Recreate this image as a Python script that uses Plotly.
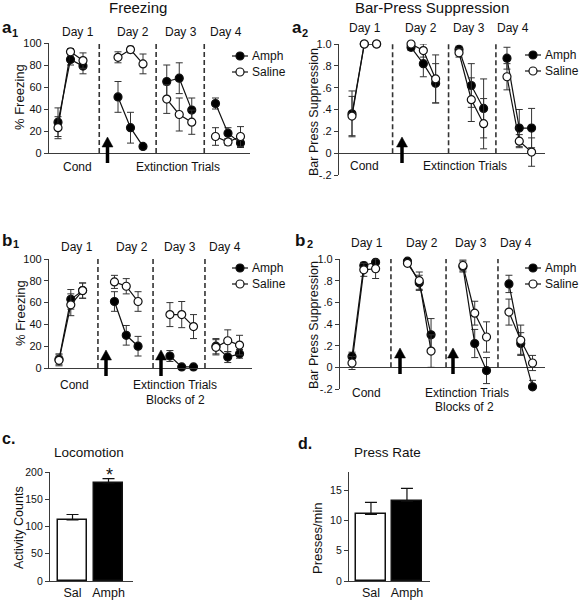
import plotly.graph_objects as go

W, H = 581, 601
FONT = "Liberation Sans, Arial, Helvetica, sans-serif"
INK = "#111111"
AX = "#3a3a3a"

# ---------------- data ----------------
DAYS = ["Day 1", "Day 2", "Day 3", "Day 4"]
SERIES = ["Amph", "Saline"]
TRIAL_POS_A = [0, 1, 2, 4.8, 5.8, 6.8, 8.7, 9.7, 10.7, 12.6, 13.6, 14.6]
TRIAL_POS_B = [0, 1, 2, 4.7, 5.7, 6.7, 9.4, 10.4, 11.4, 13.3, 14.3, 15.3]
DIVIDERS_A = [3.3, 7.85, 11.7]
DIVIDERS_B = [3.3, 7.97, 12.37]

# a1: Freezing (trials)
A1_AMPH = [28, 85, 79, 51, 23, 6, 65, 68, 39, 45, 18, 9]
A1_AMPH_ERR = [13, 5, 7, 14, 14, 1, 15, 14, 11, 5, 5, 4]
A1_SAL = [23, 92, 84, 87, 94, 81, 49, 35, 28, 15, 10, 15]
A1_SAL_ERR = [10, 3, 7, 5, 3, 9, 13, 15, 11, 8, 3, 9]

# a2: Bar-press suppression (trials)
A2_AMPH = [0.36, 1.0, 1.0, 0.97, 0.82, 0.64, 0.95, 0.62, 0.41, 0.87, 0.23, 0.23]
A2_AMPH_ERR = [0.21, 0.0, 0.0, 0.03, 0.12, 0.18, 0.03, 0.20, 0.27, 0.10, 0.17, 0.18]
A2_SAL = [0.34, 1.0, 1.0, 1.0, 0.94, 0.68, 0.92, 0.49, 0.27, 0.70, 0.11, 0.01]
A2_SAL_ERR = [0.18, 0.0, 0.0, 0.01, 0.06, 0.22, 0.04, 0.20, 0.23, 0.12, 0.06, 0.13]

# b1: Freezing (blocks of 2)
B1_AMPH = [8, 63, 71, 61, 30, 20, 11, 1, 1, 20, 10, 13]
B1_AMPH_ERR = [5, 9, 7, 9, 9, 9, 5, 1, 1, 7, 5, 4]
B1_SAL = [7, 58, 71, 79, 75, 61, 49, 49, 38, 19, 25, 21]
B1_SAL_ERR = [5, 10, 7, 6, 7, 9, 11, 12, 11, 7, 10, 9]

# b2: Bar-press suppression (blocks of 2)
B2_AMPH = [0.10, 0.94, 0.97, 0.98, 0.78, 0.30, 0.93, 0.22, -0.03, 0.77, 0.22, -0.18]
B2_AMPH_ERR = [0.04, 0.03, 0.02, 0.02, 0.07, 0.15, 0.05, 0.13, 0.12, 0.08, 0.10, 0.06]
B2_SAL = [0.04, 0.90, 0.91, 0.96, 0.80, 0.15, 0.94, 0.50, 0.28, 0.51, 0.25, 0.04]
B2_SAL_ERR = [0.06, 0.06, 0.09, 0.02, 0.08, 0.15, 0.05, 0.11, 0.14, 0.12, 0.14, 0.07]

# c / d bars
GROUPS = ["Sal", "Amph"]
LOCO = [112, 180]
LOCO_ERR = [10, 8]
PRESS = [11.0, 13.2]
PRESS_ERR = [2.0, 2.1]

SUPP_TICKS = [-0.2, 0, 0.2, 0.4, 0.6, 0.8, 1.0]
SUPP_TICKTEXT = ["-.2", "0", ".2", ".4", ".6", ".8", "1.0"]
FREEZE_TICKS = [0, 20, 40, 60, 80, 100]


# ---------------- helpers ----------------
def px(x):
    return x / W


def py(y):
    return 1 - y / H


def by_day(vals, fill=None):
    out = []
    for d in range(len(DAYS)):
        out += list(vals[d * 3:(d + 1) * 3])
        if d < len(DAYS) - 1:
            out.append(fill)
    return out


def xrange_for(px_left, px_right, px0, step):
    return [(px_left - px0) / step, (px_right - px0) / step]


fig = go.Figure()

PANELS = [
    ("", TRIAL_POS_A, A1_AMPH, A1_AMPH_ERR, A1_SAL, A1_SAL_ERR),
    ("2", TRIAL_POS_A, A2_AMPH, A2_AMPH_ERR, A2_SAL, A2_SAL_ERR),
    ("3", TRIAL_POS_B, B1_AMPH, B1_AMPH_ERR, B1_SAL, B1_SAL_ERR),
    ("4", TRIAL_POS_B, B2_AMPH, B2_AMPH_ERR, B2_SAL, B2_SAL_ERR),
]

for key, pos, am, ame, sa, sae in PANELS:
    for name, vals, errs, fillc in [("Amph", am, ame, "black"), ("Saline", sa, sae, "white")]:
        fig.add_trace(go.Scatter(
            x=by_day(pos), y=by_day(vals),
            mode="lines+markers", name=name, showlegend=False,
            line=dict(color=INK, width=1.2),
            marker=dict(symbol="circle", size=8, color=fillc, line=dict(color=INK, width=1.2)),
            error_y=dict(type="data", array=by_day(errs, 0), color="#333333", thickness=1, width=3.5),
            cliponaxis=False, connectgaps=False,
            xaxis="x" + key, yaxis="y" + key,
        ))

for key, vals, errs, bw in [("5", LOCO, LOCO_ERR, 0.8), ("6", PRESS, PRESS_ERR, 0.83)]:
    fig.add_trace(go.Bar(
        x=GROUPS, y=vals, width=bw,
        marker=dict(color=["white", "black"], line=dict(color=INK, width=1.5)),
        error_y=dict(type="data", array=errs, arrayminus=[0, 0], symmetric=False,
                     color=INK, thickness=1.2, width=6),
        showlegend=False, cliponaxis=False,
        xaxis="x" + key, yaxis="y" + key,
    ))

line_x_common = dict(showgrid=False, zeroline=False, ticks="", showticklabels=False,
                     linecolor=AX, linewidth=1.2, automargin=False)
y_common = dict(showgrid=False, ticks="outside", ticklen=4, tickwidth=1.2, tickcolor=AX,
                linecolor=AX, linewidth=1.2, showline=True, automargin=False, zeroline=False,
                tickfont=dict(family=FONT, size=11, color=INK))
y_bar = dict(y_common, tickfont=dict(family=FONT, size=10.5, color=INK))
y_supp = dict(y_common, zeroline=True, zerolinecolor=AX, zerolinewidth=1.2)
bar_x_common = dict(showline=True, linecolor=AX, linewidth=1.2, ticks="", showgrid=False,
                    zeroline=False, automargin=False, tickfont=dict(family=FONT, size=12.5, color=INK))

layout = dict(
    template="none",
    width=W, height=H, margin=dict(l=0, r=0, t=0, b=0, autoexpand=False),
    paper_bgcolor="white", plot_bgcolor="rgba(0,0,0,0)",
    font=dict(family=FONT, color=INK), showlegend=False, bargap=0,
    xaxis=dict(domain=[px(49), px(250)], range=xrange_for(49, 250, 58, 12.5), showline=True, anchor="y", **line_x_common),
    yaxis=dict(domain=[py(153), py(43)], range=[0, 100], tickvals=FREEZE_TICKS, anchor="x", **y_common),
    xaxis2=dict(domain=[px(339), px(545)], range=xrange_for(339, 545, 352, 12.3), showline=False, anchor="y2", **line_x_common),
    yaxis2=dict(domain=[py(175), py(44)], range=[-0.2, 1.0], tickvals=SUPP_TICKS, ticktext=SUPP_TICKTEXT,
                anchor="x2", **y_supp),
    xaxis3=dict(domain=[px(49), px(252)], range=xrange_for(49, 252, 59, 11.8), showline=True, anchor="y3", **line_x_common),
    yaxis3=dict(domain=[py(368), py(259)], range=[0, 100], tickvals=FREEZE_TICKS, anchor="x3", **y_common),
    xaxis4=dict(domain=[px(340), px(545)], range=xrange_for(340, 545, 352, 11.8), showline=False, anchor="y4", **line_x_common),
    yaxis4=dict(domain=[py(389), py(259)], range=[-0.2, 1.0], tickvals=SUPP_TICKS, ticktext=SUPP_TICKTEXT,
                anchor="x4", **y_supp),
    xaxis5=dict(domain=[px(50), px(133)], range=[-0.625, 1.68], anchor="y5", **bar_x_common),
    yaxis5=dict(domain=[py(581), py(472)], range=[0, 200], tickvals=[0, 50, 100, 150, 200], anchor="x5", **y_bar),
    xaxis6=dict(domain=[px(349), px(430)], range=[-0.61, 1.64], anchor="y6", **bar_x_common),
    yaxis6=dict(domain=[py(581), py(472)], range=[0, 18], tickvals=[0, 5, 10, 15], anchor="x6", **y_bar),
)
fig.update_layout(**layout)

shapes = []
for key, divs, top in [("", DIVIDERS_A, 100), ("2", DIVIDERS_A, 1.0), ("3", DIVIDERS_B, 100), ("4", DIVIDERS_B, 1.0)]:
    for dv in divs:
        shapes.append(dict(type="line", xref="x" + key, yref="y" + key, x0=dv, x1=dv, y0=0, y1=top,
                           line=dict(color="#333333", width=1.6, dash="5px,3px")))

# manual legends (line + circle keys)
LEGENDS = [(240, 56), (533, 55), (240, 268), (533, 268)]
ROW_GAP = 16
for lx, ly in LEGENDS:
    for i, fillc in enumerate(["black", "white"]):
        yy = ly + i * ROW_GAP
        shapes.append(dict(type="line", xref="paper", yref="paper", x0=px(lx - 8), x1=px(lx + 8),
                           y0=py(yy), y1=py(yy), line=dict(color=INK, width=1.2)))
        shapes.append(dict(type="circle", xref="paper", yref="paper", xsizemode="pixel", ysizemode="pixel",
                           xanchor=px(lx), yanchor=py(yy), x0=-4, x1=4, y0=-4, y1=4,
                           fillcolor=fillc, line=dict(color=INK, width=1.2)))

# arrows (extinction-session markers): shaft + triangular head
ARROWS = [(107.5, 137), (402, 137), (106, 350), (161, 350), (400, 348), (453, 348)]
for axp, tip in ARROWS:
    shapes.append(dict(type="line", xref="paper", yref="paper", x0=px(axp), x1=px(axp),
                       y0=py(tip + 8), y1=py(tip + 26), line=dict(color="black", width=3.5)))
    path = "M {:.5f},{:.5f} L {:.5f},{:.5f} L {:.5f},{:.5f} Z".format(
        px(axp), py(tip), px(axp - 5.5), py(tip + 10), px(axp + 5.5), py(tip + 10))
    shapes.append(dict(type="path", xref="paper", yref="paper", path=path,
                       fillcolor="black", line=dict(color="black", width=0.5)))
fig.update_layout(shapes=shapes)

ann = []


def text(s, x, y, size=12, xanchor="center", yanchor="middle", angle=0, pad=1):
    ann.append(dict(text=s, x=px(x), y=py(y), xref="paper", yref="paper", showarrow=False,
                    xanchor=xanchor, yanchor=yanchor, textangle=angle, borderpad=pad,
                    font=dict(family=FONT, size=size, color=INK)))


text("Freezing", 138, 8, 15)
text("Bar-Press Suppression", 432, 8, 15)

# panel letters with separate subscript digits
for letter, sub, lx, ly, sx, sy in [("a", "1", 1, 28, 14.5, 33), ("a", "2", 291, 28, 305, 33),
                                     ("b", "1", 1, 240, 16, 244), ("b", "2", 294, 240, 310, 244)]:
    text("<b>" + letter + "</b>", lx, ly, 17, xanchor="left", pad=0)
    text("<b>" + sub + "</b>", sx, sy, 11, pad=0)
text("<b>c.</b>", 0, 438, 16, xanchor="left")
text("<b>d.</b>", 296, 443, 16, xanchor="left")

for xs, yday in [([78, 133, 181, 226], 32), ([365, 421, 469, 513], 28),
                 ([77, 132, 180, 225], 247), ([367, 422, 471, 516], 243)]:
    for d, xx in zip(DAYS, xs):
        text(d, xx, yday, 12)

text("Cond", 77, 167, 12)
text("Extinction Trials", 178, 167, 12)
text("Cond", 364, 166, 12)
text("Extinction Trials", 465, 166, 12)
text("Cond", 74, 385, 12)
text("Extinction Trials", 175, 385, 12)
text("Blocks of 2", 175, 400, 12)
text("Cond", 366, 393, 12)
text("Extinction Trials", 467, 393, 12)
text("Blocks of 2", 464, 407, 12)

text("% Freezing", 20, 97, 13, angle=-90)
text("Bar Press Suppression", 314, 112, 12.5, angle=-90)
text("% Freezing", 20, 313, 13, angle=-90)
text("Bar Press Suppression", 314, 325, 12.5, angle=-90)
text("Activity Counts", 19, 528, 12.5, angle=-90)
text("Presses/min", 317, 538, 13, angle=-90)

text("Locomotion", 89, 452, 13.5)
text("Press Rate", 387, 452, 13.5)
text("*", 109, 475, 18)

for lx, ly in LEGENDS:
    for i, name in enumerate(SERIES):
        text(name, lx + 10, ly + i * ROW_GAP, 12, xanchor="left")

fig.update_layout(annotations=ann)
# remove the browser's default 8px page margin so the figure fills the window exactly
fig.write_html("out.html", config={"displayModeBar": False},
               post_script="document.body.style.margin='0';")
